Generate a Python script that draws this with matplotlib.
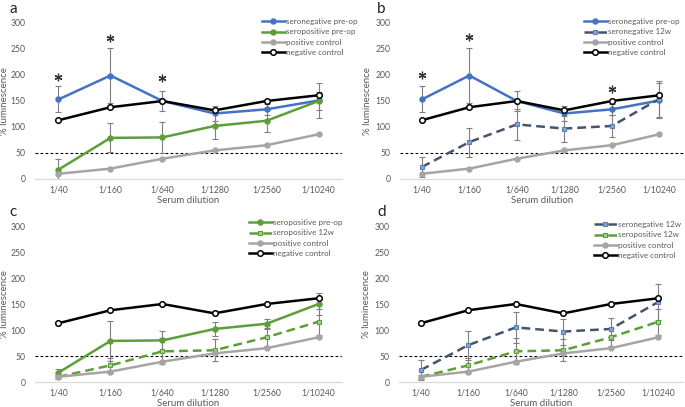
import matplotlib
matplotlib.use("Agg")
import matplotlib.pyplot as plt

plt.rcParams['font.family'] = ['Lato', 'DejaVu Sans']

dilutions = ['1/40', '1/160', '1/640', '1/1280', '1/2560', '1/10240']
yticks = [0, 50, 100, 150, 200, 250, 300]

seroneg_preop = [153, 199, 150, 126, 134, 151]
seroneg_preop_err = [25, 52, 20, 15, 10, 34]
seropos_preop = [18, 79, 80, 102, 112, 150]
seropos_preop_err_a = [20, 28, 30, 25, 21, 17]
seropos_preop_err_c = [7, 38, 18, 13, 10, 22]
seroneg_12w = [23, 71, 105, 97, 102, 154]
seroneg_12w_err = [19, 28, 30, 25, 21, 34]
seropos_12w = [10, 32, 59, 61, 86, 116]
seropos_12w_err = [4, 15, 25, 21, 17, 25]
pos_ctrl = [10, 20, 39, 55, 65, 86]
neg_ctrl = [113, 138, 150, 132, 150, 161]
cutoff = 50

stars_a_idx = [0, 1, 2]
stars_a_y = [196, 272, 194]
stars_b_idx = [0, 1, 4]
stars_b_y = [200, 274, 174]

BLUE = '#4472C4'
GREEN = '#5E9E3A'
GRAY = '#A5A5A5'
DKBLUE = '#44546A'
ERR = '#7F7F7F'
TXT = '#595959'

W, H = 685, 407
fig = plt.figure(figsize=(W / 100, H / 100), dpi=100)


def rect(l, r, t, b):
    return [l / W, (H - b) / H, (r - l) / W, (b - t) / H]


x = list(range(len(dilutions)))

styles = {
    'seronegative pre-op': dict(color=BLUE, ls='-', marker='o', ms=3.6, mfc=BLUE, mec=BLUE),
    'seropositive pre-op': dict(color=GREEN, ls='-', marker='o', ms=3.6, mfc=GREEN, mec=GREEN),
    'seronegative 12w': dict(color=DKBLUE, ls=(0, (3.5, 2)), marker='s', ms=3.3, mfc='#7FA7D9', mec='#5A7FB0', mew=0.8),
    'seropositive 12w': dict(color=GREEN, ls=(0, (3.5, 2)), marker='s', ms=3.3, mfc='#A9D18E', mec=GREEN, mew=0.8),
    'positive control': dict(color=GRAY, ls='-', marker='o', ms=3.6, mfc=GRAY, mec=GRAY),
    'negative control': dict(color='black', ls='-', marker='o', ms=4.0, mfc='white', mec='black', mew=1.1),
}


def panel(r, letter, letter_xy, series, stars, legend_xy, xlim, ylab_x):
    ax = fig.add_axes(r)
    ax.set_xlim(*xlim)
    ax.set_ylim(0, 300)
    for name, vals, err in series:
        st = styles[name]
        if err is not None:
            ax.errorbar(x, vals, yerr=err, fmt='none', ecolor=ERR, elinewidth=0.8,
                        capsize=2, capthick=0.8, zorder=2)
        ax.plot(x, vals, lw=1.8, label=name, zorder=3, **st)
    ax.axhline(cutoff, color='black', lw=0.8, ls=(0, (2.5, 2)), zorder=1)
    if stars:
        idx, ys = stars
        ax.plot(idx, ys, ls='none', marker=(6, 2, 0), ms=5.5, mew=0.9, color='#333333', clip_on=False)
    for s in ['top', 'right', 'left']:
        ax.spines[s].set_visible(False)
    ax.spines['bottom'].set_color('#D9D9D9')
    ax.spines['bottom'].set_linewidth(0.9)
    ax.set_xticks(x)
    ax.set_xticklabels(dilutions)
    ax.set_yticks(yticks)
    ax.tick_params(axis='both', length=0, labelsize=6.2, labelcolor=TXT)
    ax.tick_params(axis='x', pad=5)
    ax.tick_params(axis='y', pad=7)
    ax.set_xlabel('Serum dilution', fontsize=7, color=TXT, labelpad=1)
    ax.set_ylabel('% luminescence', fontsize=7, color=TXT)
    ax.yaxis.set_label_coords(ylab_x, 0.5)
    fig.text(letter_xy[0] / W, 1 - letter_xy[1] / H, letter, fontsize=11, color='#222222',
             ha='left', va='center')
    leg = ax.legend(loc='upper left', bbox_to_anchor=(legend_xy[0] / W, 1 - legend_xy[1] / H),
                    bbox_transform=fig.transFigure, frameon=False, fontsize=5.8,
                    handlelength=2.8, handletextpad=0.2, labelspacing=0.42, borderpad=0,
                    borderaxespad=0)
    for t in leg.get_texts():
        t.set_color(TXT)
    return ax


xl_left = (-0.45, 5.45)
xl_right = (-0.46, 5.52)

panel(rect(35, 342, 23, 179), 'a', (9, 9),
      [('seronegative pre-op', seroneg_preop, seroneg_preop_err),
       ('seropositive pre-op', seropos_preop, seropos_preop_err_a),
       ('positive control', pos_ctrl, None),
       ('negative control', neg_ctrl, None)],
      (stars_a_idx, stars_a_y), (262, 18), xl_left, -0.085)

panel(rect(400, 684, 23, 179), 'b', (377, 9),
      [('seronegative pre-op', seroneg_preop, seroneg_preop_err),
       ('seronegative 12w', seroneg_12w, seroneg_12w_err),
       ('positive control', pos_ctrl, None),
       ('negative control', neg_ctrl, None)],
      (stars_b_idx, stars_b_y), (584, 18), xl_right, -0.1)

panel(rect(35, 342, 226, 382), 'c', (9, 212),
      [('seropositive pre-op', seropos_preop, seropos_preop_err_c),
       ('seropositive 12w', seropos_12w, seropos_12w_err),
       ('positive control', pos_ctrl, None),
       ('negative control', neg_ctrl, None)],
      None, (249, 219), xl_left, -0.085)

panel(rect(399, 683, 226, 382), 'd', (377, 212),
      [('seronegative 12w', seroneg_12w, seroneg_12w_err),
       ('seropositive 12w', seropos_12w, seropos_12w_err),
       ('positive control', pos_ctrl, None),
       ('negative control', neg_ctrl, None)],
      None, (594, 221), xl_right, -0.1)

fig.savefig('out.png', dpi=100)
